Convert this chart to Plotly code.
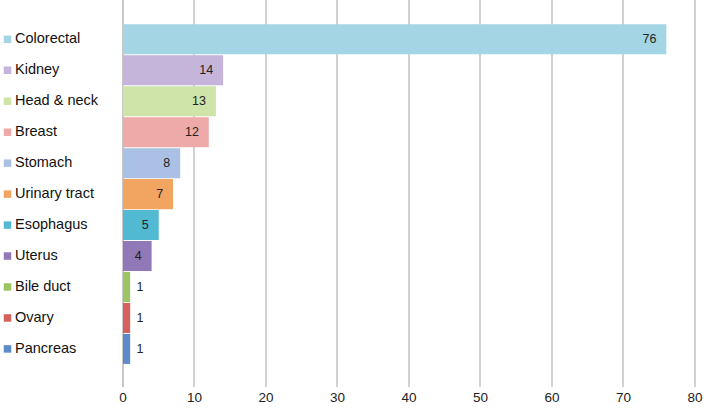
import plotly.graph_objects as go

categories = ["Colorectal", "Kidney", "Head & neck", "Breast", "Stomach",
              "Urinary tract", "Esophagus", "Uterus", "Bile duct", "Ovary", "Pancreas"]
values = [76, 14, 13, 12, 8, 7, 5, 4, 1, 1, 1]
colors = ["#a3d5e4", "#c5b5da", "#cfe4a9", "#eeaaa8", "#aac0e4", "#f2a461",
          "#52b9d3", "#9079b6", "#9dc462", "#d6605d", "#5d8bc9"]
x_ticks = [0, 10, 20, 30, 40, 50, 60, 70, 80]

FONT = "Liberation Sans, Arial, sans-serif"
W, H = 707, 408
pos = list(range(len(categories)))
big = [v >= 4 for v in values]
labels = [f"{v}\u00a0\u00a0" if b else f"\u00a0{v}" for v, b in zip(values, big)]

fig = go.Figure()
fig.add_trace(go.Bar(
    y=pos, x=values, orientation="h",
    marker=dict(color=colors, line=dict(width=0)),
    width=0.97,
    text=labels, textposition=["inside" if b else "outside" for b in big],
    insidetextanchor="end",
    textfont=dict(family=FONT, size=12.5, color="#222"),
    outsidetextfont=dict(family=FONT, size=12.5, color="#222"),
    cliponaxis=False,
))

# legend column on the left (own x axis, shares the bar y axis)
fig.add_trace(go.Scatter(
    x=[7.5] * len(pos), y=pos, xaxis="x2", yaxis="y", mode="markers",
    marker=dict(symbol="square", size=7.5, color=colors),
    cliponaxis=False, hoverinfo="skip",
))
fig.add_trace(go.Scatter(
    x=[15] * len(pos), y=pos, xaxis="x2", yaxis="y",
    mode="text", text=categories, textposition="middle right",
    textfont=dict(family=FONT, size=14.5, color="#111"),
    cliponaxis=False, hoverinfo="skip",
))

left = 123 / (W - 11)
fig.update_layout(
    xaxis=dict(
        domain=[left, 1], range=[0, 80.15], tickvals=x_ticks,
        showgrid=True, gridcolor="#d2d2d2", gridwidth=2,
        zeroline=True, zerolinecolor="#c8c8c8", zerolinewidth=2,
        ticks="", tickfont=dict(family=FONT, size=13.5, color="#222"),
        automargin=False,
    ),
    xaxis2=dict(domain=[0, 110 / (W - 11)], range=[0, 110], anchor="y",
                visible=False, automargin=False),
    yaxis=dict(range=[11.23, -1.27], showticklabels=False, showgrid=False,
               zeroline=False, automargin=False),
    width=W, height=H, margin=dict(l=0, r=11, t=0, b=21, autoexpand=False),
    paper_bgcolor="white", plot_bgcolor="white", showlegend=False,
)
fig.write_html("out.html", config={"displayModeBar": False},
               post_script="document.body.style.margin='0';")
